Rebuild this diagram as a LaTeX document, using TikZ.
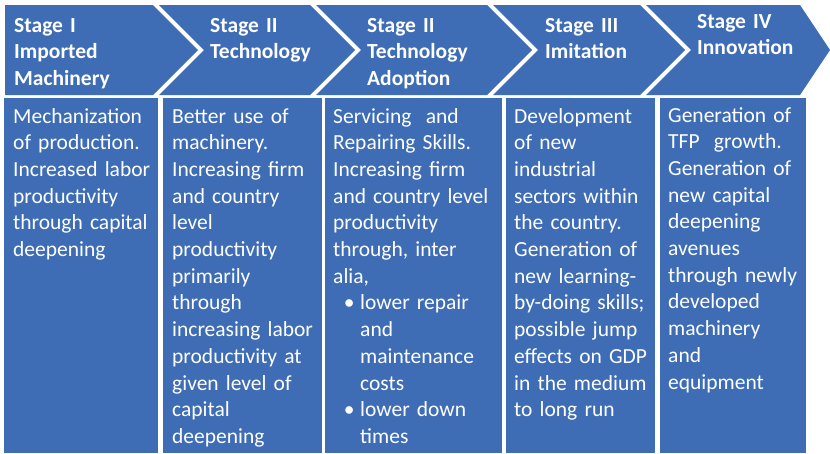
\documentclass[tikz,border=0pt]{standalone}
\usepackage{fontspec}
\setmainfont{Carlito}
\definecolor{stageblue}{RGB}{62,109,181}

\begin{document}
\begin{tikzpicture}[x=1pt, y=-1pt,
    head/.style={anchor=base west, inner sep=0pt, text=white, align=left,
        text width=170pt, font=\fontsize{21.5}{26.7}\selectfont\bfseries},
    body/.style={anchor=base west, inner sep=0pt, text=white, align=left,
        text width=180pt, font=\fontsize{21.5}{26.7}\selectfont}]
\useasboundingbox[fill=white] (0,0) rectangle (830,453);

\def\ytop{5}
\def\ymid{50}
\def\ybot{95}

% chevrons
\fill[stageblue] (5,\ytop) -- (153,\ytop) -- (198,\ymid) -- (153,\ybot) -- (5,\ybot) -- cycle;
\foreach \l/\r in {159/310, 316/487, 493/640}
  \fill[stageblue] (\l,\ytop) -- (\r,\ytop) -- (\r+45,\ymid) -- (\r,\ybot)
    -- (\l,\ybot) -- (\l+45,\ymid) -- cycle;
\fill[stageblue] (646,\ytop) -- (800,\ytop) -- (830,\ymid) -- (800,\ybot)
  -- (646,\ybot) -- (691,\ymid) -- cycle;

% boxes
\foreach \l/\r in {4/158, 163/322, 325/502, 506/655, 660/806}
  \fill[stageblue] (\l,98) rectangle (\r,453);

% stage titles
\node[head] (h1) at (14,32) {Stage I\\Imported\\Machinery};
\node[head] (h2) at (210,32) {Stage II\\Technology};
\node[head] (h3) at (367,32) {Stage II\\Technology\\Adoption};
\node[head] (h4) at (545,32) {Stage III\\Imitation};
\node[head] (h5) at (697,28) {Stage IV\\Innovation};

% descriptions
\node[body] (b1) at (13,123) {Mechanization\\of production.\\Increased labor\\productivity\\through capital\\deepening};
\node[body] (b2) at (172,123) {Better use of\\machinery.\\Increasing firm\\and country\\level\\productivity\\primarily\\through\\increasing labor\\productivity at\\given level of\\capital\\deepening};
\node[body] (b3) at (333,123) {Servicing~ and\\Repairing Skills.\\Increasing firm\\and country level\\productivity\\through, inter\\alia,\\
  \hspace*{10.5pt}\makebox[11pt]{\textbullet}\hspace{5.5pt}lower repair\\
  \hspace*{27pt}and\\
  \hspace*{27pt}maintenance\\
  \hspace*{27pt}costs\\
  \hspace*{10.5pt}\makebox[11pt]{\textbullet}\hspace{5.5pt}lower down\\
  \hspace*{27pt}times};
\node[body] (b4) at (514,123) {Development\\of new\\industrial\\sectors within\\the country.\\Generation of\\new learning-\\by-doing skills;\\possible jump\\effects on GDP\\in the medium\\to long run};
\node[body] (b5) at (668,122) {Generation of\\TFP~ growth.\\Generation of\\new capital\\deepening\\avenues\\through newly\\developed\\machinery\\and\\equipment};
\end{tikzpicture}
\end{document}
